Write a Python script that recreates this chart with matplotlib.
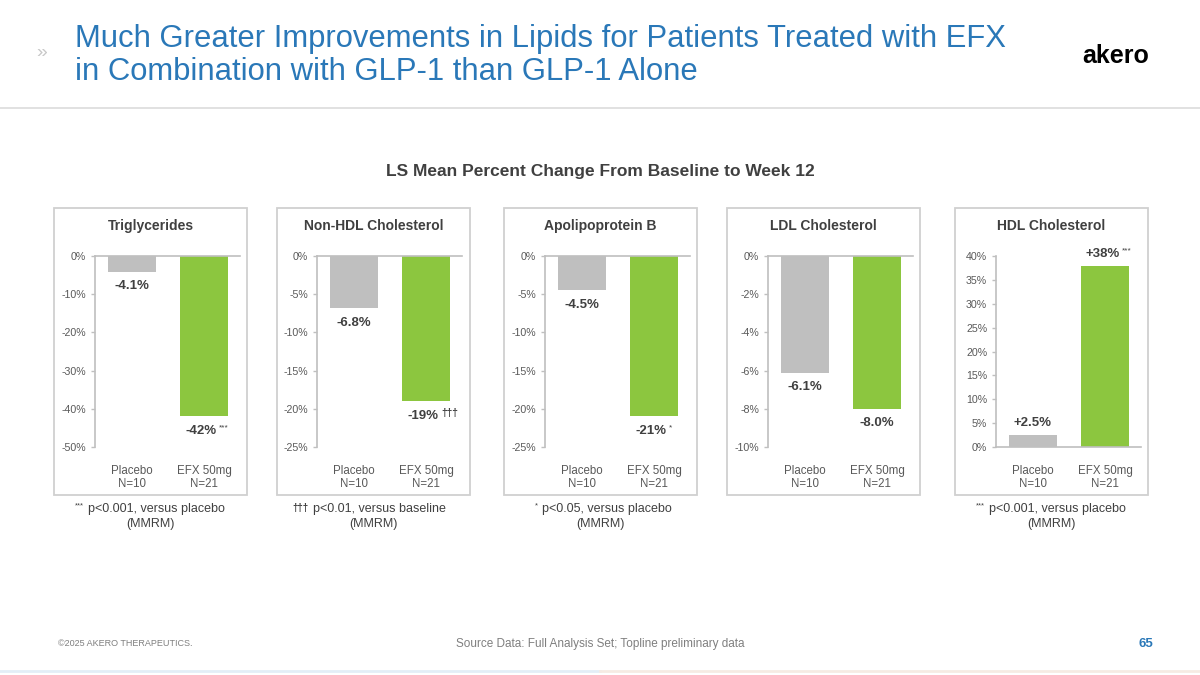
import matplotlib
matplotlib.use("Agg")
import matplotlib.pyplot as plt
from matplotlib.patches import Rectangle
from matplotlib.lines import Line2D

plt.rcParams['font.family'] = ['Liberation Sans', 'DejaVu Sans']

# ---------------- data ----------------
panel_titles = ["Triglycerides", "Non-HDL Cholesterol", "Apolipoprotein B",
                "LDL Cholesterol", "HDL Cholesterol"]
categories = ["Placebo\nN=10", "EFX 50mg\nN=21"]
placebo = [-4.1, -6.8, -4.5, -6.1, 2.5]
efx = [-42, -19, -21, -8.0, 38]
placebo_labels = ["-4.1%", "-6.8%", "-4.5%", "-6.1%", "+2.5%"]
efx_labels = ["-42%", "-19%", "-21%", "-8.0%", "+38%"]
efx_marks = ["***", "\u2020\u2020\u2020", "*", "", "***"]
y_limits = [(-50, 0), (-25, 0), (-25, 0), (-10, 0), (0, 40)]
y_steps = [10, 5, 5, 2, 5]
foot_marks = ["***", "\u2020\u2020\u2020", "*", "", "***"]
foot_texts = ["p<0.001, versus placebo", "p<0.01, versus baseline",
              "p<0.05, versus placebo", "", "p<0.001, versus placebo"]

# ---------------- style ----------------
W, H = 1200, 675
DARK = "#404040"
TICK = "#595959"
AXC = "#bfbfbf"
GRAY_BAR = "#bfbfbf"
GREEN = "#8cc63f"
BLUE = "#2a78b8"

fig = plt.figure(figsize=(12, 6.75), dpi=100)


def fx(x):
    return x / W


def fy(y):
    return 1 - y / H


# header
fig.text(fx(75), fy(47), "Much Greater Improvements in Lipids for Patients Treated with EFX",
         color=BLUE, fontsize=22.3, va="baseline", ha="left")
fig.text(fx(75), fy(80), "in Combination with GLP-1 than GLP-1 Alone",
         color=BLUE, fontsize=22.3, va="baseline", ha="left")
fig.text(fx(42), fy(52), "\u00bb", color="#c8c8c8", fontsize=14, va="center", ha="center")
fig.text(fx(1116), fy(56), "akero", color="black", fontsize=18, fontweight="bold",
         va="center", ha="center")
fig.add_artist(Line2D([0, 1], [fy(108), fy(108)], color="#dcdcdc", lw=1.2,
                      transform=fig.transFigure))

fig.text(fx(600), fy(171), "LS Mean Percent Change From Baseline to Week 12",
         color=DARK, fontsize=12.5, fontweight="bold", ha="center", va="center")

# panels
box_left = [54, 277, 504, 727, 955]
box_w = 193
bar_c0 = [132, 354, 582, 805, 1033]
unit = 72.0
xlo, xhi = -0.52, 1.5
ax_top, ax_bot = 256, 447

for i in range(5):
    bl = box_left[i]
    fig.add_artist(Rectangle((fx(bl), fy(495)), box_w / W, (495 - 208) / H,
                             transform=fig.transFigure, fill=False,
                             edgecolor="#d0d0d0", lw=1.3))
    cx = bl + box_w / 2
    fig.text(fx(cx), fy(226), panel_titles[i], color=DARK, fontsize=10,
             fontweight="bold", ha="center", va="center")

    left_px = bar_c0[i] + xlo * unit
    width_px = (xhi - xlo) * unit
    ax = fig.add_axes([fx(left_px), fy(ax_bot), width_px / W, (ax_bot - ax_top) / H])
    ax.set_facecolor("none")
    vals = [placebo[i], efx[i]]
    ax.bar([0, 1], vals, width=0.667, color=[GRAY_BAR, GREEN], zorder=2)
    lo, hi = y_limits[i]
    ax.set_ylim(lo, hi)
    ax.set_xlim(xlo, xhi)
    step = y_steps[i]
    ticks = list(range(lo, hi + 1, step))
    ax.set_yticks(ticks)
    ax.set_yticklabels([f"{t}%" for t in ticks])
    ax.set_xticks([0, 1])
    ax.set_xticklabels(categories, linespacing=1.05)
    for s in ["top", "right", "bottom"]:
        ax.spines[s].set_visible(False)
    ax.spines["left"].set_color(AXC)
    ax.spines["left"].set_linewidth(1.2)
    ax.axhline(0, color=AXC, lw=1.2, zorder=3, clip_on=False)
    ax.tick_params(axis="y", colors=AXC, labelcolor=TICK, labelsize=7.7,
                   length=3, width=1, pad=3)
    ax.tick_params(axis="x", length=0, labelcolor=TICK, labelsize=8.3, pad=13)

    labels = [placebo_labels[i], efx_labels[i]]
    marks = ["", efx_marks[i]]
    for j, v in enumerate(vals):
        off = 10.5 if v < 0 else -8.5
        shift = -2 if marks[j] else 0
        t = ax.annotate(labels[j], xy=(j, v), xytext=(shift, -off),
                        textcoords="offset points", ha="center", va="center",
                        fontsize=9.5, fontweight="bold", color=DARK)
        if marks[j]:
            dag = marks[j].startswith("\u2020")
            ax.annotate(marks[j], xy=(1, 0.75), xycoords=t,
                        xytext=(2 if dag else 1.5, 0), textcoords="offset points",
                        ha="left", va="center",
                        fontsize=7.5 if dag else 6, color=DARK,
                        fontweight="bold" if dag else "normal")

    if foot_texts[i]:
        dag = foot_marks[i].startswith("\u2020")
        ft = fig.text(fx(cx + 6), fy(509), foot_texts[i], color=DARK, fontsize=9,
                      ha="center", va="center")
        fig.text(fx(cx), fy(524), "(MMRM)", color=DARK, fontsize=9,
                 ha="center", va="center")
        ax.annotate(foot_marks[i], xy=(0, 0.8 if not dag else 0.6), xycoords=ft,
                    xytext=(-3, 0), textcoords="offset points", ha="right",
                    va="center", fontsize=7 if dag else 5.5, color=DARK,
                    fontweight="bold" if dag else "normal",
                    annotation_clip=False)

# footer
fig.text(fx(58), fy(644), "\u00a92025 AKERO THERAPEUTICS.", color="#7f7f7f",
         fontsize=6.5, ha="left", va="center")
fig.text(fx(600), fy(644), "Source Data: Full Analysis Set; Topline preliminary data",
         color="#7f7f7f", fontsize=8.5, ha="center", va="center")
fig.text(fx(1153), fy(644), "65", color=BLUE, fontsize=9.5, fontweight="bold",
         ha="right", va="center")
fig.add_artist(Line2D([0, 0.5], [fy(671), fy(671)], color="#e3eef7", lw=2,
                      transform=fig.transFigure))
fig.add_artist(Line2D([0.5, 1], [fy(671), fy(671)], color="#f6ebe3", lw=2,
                      transform=fig.transFigure))

fig.savefig("out.png", dpi=100)
